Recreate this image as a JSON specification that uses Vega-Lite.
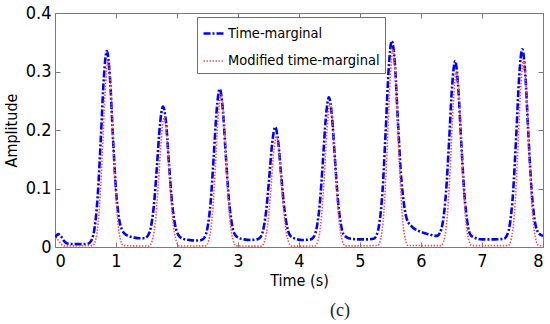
{
  "$schema": "https://vega.github.io/schema/vega-lite/v6.json",
  "width": 488,
  "height": 234,
  "autosize": {"type": "none"},
  "padding": {"left": 55, "top": 13, "right": 7, "bottom": 77},
  "background": "white",
  "title": {"text": "(c)", "orient": "bottom", "font": "Liberation Serif", "fontSize": 18, "fontWeight": "normal", "color": "#222", "dx": 41, "offset": 14},
  "data": {"values": [
    {"t":0,"v":0.015,"s":"Time-marginal"},{"t":0.05,"v":0.022,"s":"Time-marginal"},{"t":0.1,"v":0.018,"s":"Time-marginal"},{"t":0.15,"v":0.01,"s":"Time-marginal"},{"t":0.2,"v":0.006,"s":"Time-marginal"},{"t":0.3,"v":0.005,"s":"Time-marginal"},{"t":0.45,"v":0.005,"s":"Time-marginal"},
    {"t":0.55,"v":0.006,"s":"Time-marginal"},{"t":0.6,"v":0.012,"s":"Time-marginal"},{"t":0.65,"v":0.033,"s":"Time-marginal"},{"t":0.7,"v":0.087,"s":"Time-marginal"},{"t":0.75,"v":0.183,"s":"Time-marginal"},{"t":0.8,"v":0.288,"s":"Time-marginal"},{"t":0.85,"v":0.335,"s":"Time-marginal"},{"t":0.9,"v":0.291,"s":"Time-marginal"},{"t":0.95,"v":0.188,"s":"Time-marginal"},{"t":1.0,"v":0.097,"s":"Time-marginal"},{"t":1.05,"v":0.048,"s":"Time-marginal"},{"t":1.1,"v":0.029,"s":"Time-marginal"},{"t":1.15,"v":0.022,"s":"Time-marginal"},{"t":1.2,"v":0.019,"s":"Time-marginal"},{"t":1.3,"v":0.016,"s":"Time-marginal"},{"t":1.4,"v":0.015,"s":"Time-marginal"},
    {"t":1.47,"v":0.015,"s":"Time-marginal"},{"t":1.52,"v":0.019,"s":"Time-marginal"},{"t":1.57,"v":0.033,"s":"Time-marginal"},{"t":1.62,"v":0.07,"s":"Time-marginal"},{"t":1.67,"v":0.136,"s":"Time-marginal"},{"t":1.72,"v":0.208,"s":"Time-marginal"},{"t":1.77,"v":0.24,"s":"Time-marginal"},{"t":1.82,"v":0.213,"s":"Time-marginal"},{"t":1.87,"v":0.14,"s":"Time-marginal"},{"t":1.92,"v":0.074,"s":"Time-marginal"},{"t":1.97,"v":0.037,"s":"Time-marginal"},{"t":2.02,"v":0.021,"s":"Time-marginal"},{"t":2.1,"v":0.014,"s":"Time-marginal"},{"t":2.2,"v":0.012,"s":"Time-marginal"},{"t":2.3,"v":0.011,"s":"Time-marginal"},
    {"t":2.4,"v":0.012,"s":"Time-marginal"},{"t":2.45,"v":0.016,"s":"Time-marginal"},{"t":2.5,"v":0.033,"s":"Time-marginal"},{"t":2.55,"v":0.075,"s":"Time-marginal"},{"t":2.6,"v":0.151,"s":"Time-marginal"},{"t":2.65,"v":0.233,"s":"Time-marginal"},{"t":2.7,"v":0.27,"s":"Time-marginal"},{"t":2.75,"v":0.237,"s":"Time-marginal"},{"t":2.8,"v":0.157,"s":"Time-marginal"},{"t":2.85,"v":0.082,"s":"Time-marginal"},{"t":2.9,"v":0.039,"s":"Time-marginal"},{"t":2.95,"v":0.021,"s":"Time-marginal"},{"t":3.0,"v":0.016,"s":"Time-marginal"},{"t":3.1,"v":0.013,"s":"Time-marginal"},{"t":3.2,"v":0.012,"s":"Time-marginal"},
    {"t":3.31,"v":0.013,"s":"Time-marginal"},{"t":3.36,"v":0.016,"s":"Time-marginal"},{"t":3.41,"v":0.028,"s":"Time-marginal"},{"t":3.46,"v":0.06,"s":"Time-marginal"},{"t":3.51,"v":0.116,"s":"Time-marginal"},{"t":3.56,"v":0.177,"s":"Time-marginal"},{"t":3.61,"v":0.205,"s":"Time-marginal"},{"t":3.66,"v":0.179,"s":"Time-marginal"},{"t":3.71,"v":0.12,"s":"Time-marginal"},{"t":3.76,"v":0.065,"s":"Time-marginal"},{"t":3.81,"v":0.032,"s":"Time-marginal"},{"t":3.86,"v":0.019,"s":"Time-marginal"},{"t":3.95,"v":0.014,"s":"Time-marginal"},{"t":4.05,"v":0.012,"s":"Time-marginal"},
    {"t":4.19,"v":0.013,"s":"Time-marginal"},{"t":4.24,"v":0.017,"s":"Time-marginal"},{"t":4.29,"v":0.033,"s":"Time-marginal"},{"t":4.34,"v":0.073,"s":"Time-marginal"},{"t":4.39,"v":0.144,"s":"Time-marginal"},{"t":4.44,"v":0.221,"s":"Time-marginal"},{"t":4.49,"v":0.256,"s":"Time-marginal"},{"t":4.54,"v":0.224,"s":"Time-marginal"},{"t":4.59,"v":0.149,"s":"Time-marginal"},{"t":4.64,"v":0.078,"s":"Time-marginal"},{"t":4.69,"v":0.037,"s":"Time-marginal"},{"t":4.74,"v":0.02,"s":"Time-marginal"},{"t":4.85,"v":0.014,"s":"Time-marginal"},{"t":5.0,"v":0.013,"s":"Time-marginal"},{"t":5.12,"v":0.013,"s":"Time-marginal"},
    {"t":5.22,"v":0.014,"s":"Time-marginal"},{"t":5.27,"v":0.02,"s":"Time-marginal"},{"t":5.32,"v":0.042,"s":"Time-marginal"},{"t":5.37,"v":0.097,"s":"Time-marginal"},{"t":5.42,"v":0.196,"s":"Time-marginal"},{"t":5.47,"v":0.304,"s":"Time-marginal"},{"t":5.52,"v":0.352,"s":"Time-marginal"},{"t":5.57,"v":0.316,"s":"Time-marginal"},{"t":5.62,"v":0.218,"s":"Time-marginal"},{"t":5.67,"v":0.126,"s":"Time-marginal"},{"t":5.72,"v":0.074,"s":"Time-marginal"},{"t":5.77,"v":0.047,"s":"Time-marginal"},{"t":5.85,"v":0.035,"s":"Time-marginal"},{"t":5.95,"v":0.028,"s":"Time-marginal"},{"t":6.05,"v":0.024,"s":"Time-marginal"},{"t":6.15,"v":0.021,"s":"Time-marginal"},
    {"t":6.26,"v":0.019,"s":"Time-marginal"},{"t":6.31,"v":0.024,"s":"Time-marginal"},{"t":6.36,"v":0.044,"s":"Time-marginal"},{"t":6.41,"v":0.093,"s":"Time-marginal"},{"t":6.46,"v":0.18,"s":"Time-marginal"},{"t":6.51,"v":0.275,"s":"Time-marginal"},{"t":6.56,"v":0.318,"s":"Time-marginal"},{"t":6.61,"v":0.273,"s":"Time-marginal"},{"t":6.66,"v":0.179,"s":"Time-marginal"},{"t":6.71,"v":0.092,"s":"Time-marginal"},{"t":6.76,"v":0.042,"s":"Time-marginal"},{"t":6.81,"v":0.021,"s":"Time-marginal"},{"t":6.9,"v":0.015,"s":"Time-marginal"},{"t":7.0,"v":0.013,"s":"Time-marginal"},{"t":7.2,"v":0.013,"s":"Time-marginal"},
    {"t":7.36,"v":0.014,"s":"Time-marginal"},{"t":7.41,"v":0.02,"s":"Time-marginal"},{"t":7.46,"v":0.041,"s":"Time-marginal"},{"t":7.51,"v":0.094,"s":"Time-marginal"},{"t":7.56,"v":0.188,"s":"Time-marginal"},{"t":7.61,"v":0.292,"s":"Time-marginal"},{"t":7.66,"v":0.338,"s":"Time-marginal"},{"t":7.71,"v":0.295,"s":"Time-marginal"},{"t":7.76,"v":0.193,"s":"Time-marginal"},{"t":7.81,"v":0.101,"s":"Time-marginal"},{"t":7.86,"v":0.048,"s":"Time-marginal"},{"t":7.91,"v":0.027,"s":"Time-marginal"},{"t":7.96,"v":0.021,"s":"Time-marginal"},{"t":8.0,"v":0.019,"s":"Time-marginal"},

    {"t":0,"v":0.016,"s":"Modified time-marginal"},{"t":0.05,"v":0.012,"s":"Modified time-marginal"},{"t":0.1,"v":0.005,"s":"Modified time-marginal"},{"t":0.15,"v":0.002,"s":"Modified time-marginal"},{"t":0.3,"v":0.002,"s":"Modified time-marginal"},
    {"t":0.62,"v":0.0024,"s":"Modified time-marginal"},{"t":0.67,"v":0.014,"s":"Modified time-marginal"},{"t":0.72,"v":0.0547,"s":"Modified time-marginal"},{"t":0.77,"v":0.1456,"s":"Modified time-marginal"},{"t":0.82,"v":0.2614,"s":"Modified time-marginal"},{"t":0.87,"v":0.318,"s":"Modified time-marginal"},{"t":0.92,"v":0.2614,"s":"Modified time-marginal"},{"t":0.97,"v":0.1456,"s":"Modified time-marginal"},{"t":1.02,"v":0.0547,"s":"Modified time-marginal"},{"t":1.07,"v":0.014,"s":"Modified time-marginal"},{"t":1.12,"v":0.0024,"s":"Modified time-marginal"},
    {"t":1.54,"v":0.0017,"s":"Modified time-marginal"},{"t":1.59,"v":0.0098,"s":"Modified time-marginal"},{"t":1.64,"v":0.0382,"s":"Modified time-marginal"},{"t":1.69,"v":0.1017,"s":"Modified time-marginal"},{"t":1.74,"v":0.1825,"s":"Modified time-marginal"},{"t":1.79,"v":0.222,"s":"Modified time-marginal"},{"t":1.84,"v":0.1825,"s":"Modified time-marginal"},{"t":1.89,"v":0.1017,"s":"Modified time-marginal"},{"t":1.94,"v":0.0382,"s":"Modified time-marginal"},{"t":1.99,"v":0.0098,"s":"Modified time-marginal"},{"t":2.04,"v":0.0017,"s":"Modified time-marginal"},
    {"t":2.47,"v":0.002,"s":"Modified time-marginal"},{"t":2.52,"v":0.0114,"s":"Modified time-marginal"},{"t":2.57,"v":0.0447,"s":"Modified time-marginal"},{"t":2.62,"v":0.1191,"s":"Modified time-marginal"},{"t":2.67,"v":0.2137,"s":"Modified time-marginal"},{"t":2.72,"v":0.26,"s":"Modified time-marginal"},{"t":2.77,"v":0.2137,"s":"Modified time-marginal"},{"t":2.82,"v":0.1191,"s":"Modified time-marginal"},{"t":2.87,"v":0.0447,"s":"Modified time-marginal"},{"t":2.92,"v":0.0114,"s":"Modified time-marginal"},{"t":2.97,"v":0.002,"s":"Modified time-marginal"},
    {"t":3.38,"v":0.0014,"s":"Modified time-marginal"},{"t":3.43,"v":0.0084,"s":"Modified time-marginal"},{"t":3.48,"v":0.0327,"s":"Modified time-marginal"},{"t":3.53,"v":0.087,"s":"Modified time-marginal"},{"t":3.58,"v":0.1562,"s":"Modified time-marginal"},{"t":3.63,"v":0.19,"s":"Modified time-marginal"},{"t":3.68,"v":0.1562,"s":"Modified time-marginal"},{"t":3.73,"v":0.087,"s":"Modified time-marginal"},{"t":3.78,"v":0.0327,"s":"Modified time-marginal"},{"t":3.83,"v":0.0084,"s":"Modified time-marginal"},{"t":3.88,"v":0.0014,"s":"Modified time-marginal"},
    {"t":4.26,"v":0.0019,"s":"Modified time-marginal"},{"t":4.31,"v":0.0108,"s":"Modified time-marginal"},{"t":4.36,"v":0.0421,"s":"Modified time-marginal"},{"t":4.41,"v":0.1122,"s":"Modified time-marginal"},{"t":4.46,"v":0.2014,"s":"Modified time-marginal"},{"t":4.51,"v":0.245,"s":"Modified time-marginal"},{"t":4.56,"v":0.2014,"s":"Modified time-marginal"},{"t":4.61,"v":0.1122,"s":"Modified time-marginal"},{"t":4.66,"v":0.0421,"s":"Modified time-marginal"},{"t":4.71,"v":0.0108,"s":"Modified time-marginal"},{"t":4.76,"v":0.0019,"s":"Modified time-marginal"},
    {"t":5.29,"v":0.0026,"s":"Modified time-marginal"},{"t":5.34,"v":0.0149,"s":"Modified time-marginal"},{"t":5.39,"v":0.0581,"s":"Modified time-marginal"},{"t":5.44,"v":0.1548,"s":"Modified time-marginal"},{"t":5.49,"v":0.2778,"s":"Modified time-marginal"},{"t":5.54,"v":0.338,"s":"Modified time-marginal"},{"t":5.59,"v":0.2778,"s":"Modified time-marginal"},{"t":5.64,"v":0.1548,"s":"Modified time-marginal"},{"t":5.69,"v":0.0581,"s":"Modified time-marginal"},{"t":5.74,"v":0.0149,"s":"Modified time-marginal"},{"t":5.79,"v":0.0026,"s":"Modified time-marginal"},
    {"t":6.33,"v":0.0023,"s":"Modified time-marginal"},{"t":6.38,"v":0.0132,"s":"Modified time-marginal"},{"t":6.43,"v":0.0516,"s":"Modified time-marginal"},{"t":6.48,"v":0.1374,"s":"Modified time-marginal"},{"t":6.53,"v":0.2466,"s":"Modified time-marginal"},{"t":6.58,"v":0.3,"s":"Modified time-marginal"},{"t":6.63,"v":0.2466,"s":"Modified time-marginal"},{"t":6.68,"v":0.1374,"s":"Modified time-marginal"},{"t":6.73,"v":0.0516,"s":"Modified time-marginal"},{"t":6.78,"v":0.0132,"s":"Modified time-marginal"},{"t":6.83,"v":0.0023,"s":"Modified time-marginal"},
    {"t":7.43,"v":0.0024,"s":"Modified time-marginal"},{"t":7.48,"v":0.0141,"s":"Modified time-marginal"},{"t":7.53,"v":0.055,"s":"Modified time-marginal"},{"t":7.58,"v":0.1466,"s":"Modified time-marginal"},{"t":7.63,"v":0.263,"s":"Modified time-marginal"},{"t":7.68,"v":0.32,"s":"Modified time-marginal"},{"t":7.73,"v":0.263,"s":"Modified time-marginal"},{"t":7.78,"v":0.1466,"s":"Modified time-marginal"},{"t":7.83,"v":0.055,"s":"Modified time-marginal"},{"t":7.88,"v":0.0141,"s":"Modified time-marginal"},{"t":7.93,"v":0.0024,"s":"Modified time-marginal"},{"t":8.0,"v":0.002,"s":"Modified time-marginal"}
  ]},
  "layer": [
    {
      "mark": {"type": "line", "interpolate": "monotone", "clip": true},
      "encoding": {
        "x": {"field": "t", "type": "quantitative", "scale": {"domain": [0, 8], "nice": false},
              "axis": {"orient": "bottom", "title": "Time (s)", "values": [0,1,2,3,4,5,6,7,8], "titlePadding": 2, "labelPadding": 10}},
        "y": {"field": "v", "type": "quantitative", "scale": {"domain": [0, 0.4], "nice": false},
              "axis": {"orient": "left", "title": "Amplitude", "values": [0,0.1,0.2,0.3,0.4], "labelExpr": "datum.value == 0 ? '0' : format(datum.value, '.1f')", "titlePadding": 6, "labelPadding": 9}},
        "color": {"field": "s", "type": "nominal", "sort": ["Time-marginal", "Modified time-marginal"],
                  "scale": {"domain": ["Time-marginal", "Modified time-marginal"], "range": ["#0000ff", "#ff5050"]},
                  "legend": {"title": null, "orient": "none", "legendX": 142, "legendY": 4, "strokeColor": "#707070", "fillColor": "white", "padding": 5, "rowPadding": 10, "symbolType": "stroke", "symbolSize": 400, "labelOffset": 3, "labelFont": "Liberation Sans Narrow, DejaVu Sans Condensed, sans-serif", "labelFontSize": 14.5, "labelColor": "black", "labelLimit": 300, "cornerRadius": 0}},
        "strokeDash": {"field": "s", "type": "nominal", "sort": ["Time-marginal", "Modified time-marginal"],
                  "scale": {"domain": ["Time-marginal", "Modified time-marginal"], "range": [[7, 2, 2, 2], [1.5, 1.5]]}},
        "strokeWidth": {"field": "s", "type": "nominal", "sort": ["Time-marginal", "Modified time-marginal"],
                  "scale": {"domain": ["Time-marginal", "Modified time-marginal"], "range": [2.6, 1.6]}}
      }
    },
    {
      "mark": {"type": "line", "opacity": 0},
      "encoding": {
        "x": {"field": "t", "type": "quantitative", "axis": {"orient": "top", "title": null, "labels": false, "values": [0,1,2,3,4,5,6,7,8]}},
        "y": {"field": "v", "type": "quantitative", "axis": {"orient": "right", "title": null, "labels": false, "values": [0,0.1,0.2,0.3,0.4]}},
        "detail": {"field": "s"}
      }
    }
  ],
  "resolve": {"axis": {"x": "independent", "y": "independent"}},
  "config": {
    "view": {"stroke": "#7a7a7a", "strokeWidth": 1},
    "axis": {"domain": false, "grid": false, "tickColor": "#7a7a7a", "tickSize": -5, "tickWidth": 1,
             "labelFont": "Liberation Sans Narrow, DejaVu Sans Condensed, sans-serif", "labelFontSize": 18, "labelColor": "black",
             "titleFont": "Liberation Sans Narrow, DejaVu Sans Condensed, sans-serif", "titleFontSize": 16, "titleFontWeight": "normal", "titleColor": "black"}
  }
}
